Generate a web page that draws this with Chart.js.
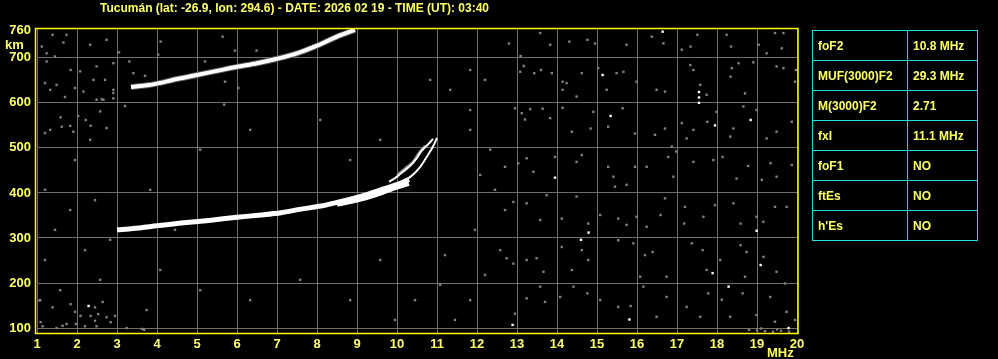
<!DOCTYPE html>
<html>
<head>
<meta charset="utf-8">
<script src="https://cdn.jsdelivr.net/npm/chart.js@4"></script>
<style>
  html, body { margin: 0; padding: 0; background: #000; }
  #wrap { position: relative; width: 998px; height: 359px; }
  #params {
    position: absolute; left: 812px; top: 30px;
    border-collapse: collapse;
    font: bold 12px "Liberation Sans", Arial, sans-serif;
    color: #ffff66;
  }
  #params td {
    border: 1px solid #1ee0e0;
    height: 29px; padding: 0 0 0 5px;
  }
  #params td:first-child { width: 89px; }
  #params td:last-child { width: 64px; }
</style>
</head>
<body>
<div id="wrap">
  <canvas id="iono" width="998" height="359"></canvas>
  <table id="params"></table>
</div>
<script>
const titleText = 'Tucumán (lat: -26.9, lon: 294.6) - DATE: 2026 02 19 - TIME (UT): 03:40';

const freqTicks = [1, 2, 3, 4, 5, 6, 7, 8, 9, 10, 11, 12, 13, 14, 15, 16, 17, 18, 19, 20];
const heightTicks = [100, 200, 300, 400, 500, 600, 700, 760];

// table on the right
const paramNames = ['foF2', 'MUF(3000)F2', 'M(3000)F2', 'fxI', 'foF1', 'ftEs', "h'Es"];
const paramValues = ['10.8 MHz', '29.3 MHz', '2.71', '11.1 MHz', 'NO', 'NO', 'NO'];

// F2 trace (one hop)
const f2Freq   = [3.0, 3.4, 4.0, 4.6, 5.3, 6.0, 6.6, 7.1, 7.6, 8.1, 8.5, 9.0, 9.3, 9.7, 10.1, 10.3];
const f2Height = [318, 321, 327, 333, 339, 346, 351, 356, 364, 371, 379, 390, 398, 410, 422, 430];
// lower edge of the thick part
const f2EdgeFreq   = [8.5, 9.0, 9.5, 10.0, 10.3];
const f2EdgeHeight = [374, 383, 396, 412, 420];
// cusp strands near foF2
const cuspAFreq   = [10.1, 10.25, 10.45, 10.6, 10.75, 10.9, 11.0];
const cuspAHeight = [422, 430, 445, 460, 481, 503, 522];
const cuspBFreq   = [9.8, 9.95, 10.15, 10.35, 10.5, 10.6, 10.8, 10.9];
const cuspBHeight = [425, 433, 447, 462, 478, 492, 510, 520];
const cuspCFreq   = [10.0, 10.2, 10.4, 10.55, 10.7];
const cuspCHeight = [440, 455, 470, 490, 505];

// second hop trace
const hop2Freq   = [3.35, 3.9, 4.5, 5.0, 5.5, 6.0, 6.5, 7.0, 7.5, 8.0, 8.5, 8.95];
const hop2Height = [635, 641, 653, 662, 671, 680, 688, 698, 710, 727, 747, 762];

// background speckle
const noiseGray = [
  [1.39, 751], [1.74, 751], [1.66, 734], [1.12, 725], [1.24, 710], [1.45, 703], [2.33, 729], [2.74, 740],
  [1.24, 692], [1.84, 673], [2.08, 670], [2.49, 681], [2.41, 651], [2.7, 651], [1.2, 644], [1.33, 629],
  [1.49, 640], [1.95, 633], [2.16, 625], [2.91, 629], [1.7, 613], [2.49, 607], [2.62, 608], [1.59, 568],
  [2.03, 571], [2.22, 562], [2.34, 549], [2.58, 581], [1.62, 547], [1.83, 549], [1.2, 533], [1.91, 536],
  [2.74, 544], [4.09, 736], [5.64, 747], [5.95, 716], [6.49, 716], [3.05, 712], [4.03, 707], [3.31, 692],
  [2.91, 688], [5.2, 692], [3.41, 666], [3.7, 660], [5.7, 647], [6.03, 633], [2.91, 622], [2.91, 610],
  [2.66, 607], [3.2, 593], [5.68, 596],
  [1.06, 161], [1.39, 146], [1.84, 153], [1.95, 136], [2.09, 127], [2.45, 146], [2.34, 127], [2.53, 131],
  [2.45, 116], [2.74, 124], [2.95, 127], [2.64, 158], [3.74, 140], [1.09, 113], [1.14, 104], [1.64, 105],
  [1.74, 109], [1.97, 109], [2.2, 104], [2.49, 104], [2.84, 113], [3.24, 100], [3.62, 98], [3.68, 96], [1.49, 100],
  [1.2, 407], [1.45, 318], [1.2, 251], [1.83, 362], [2.2, 273], [2.58, 207], [1.58, 184], [2.45, 384],
  [1.08, 162], [2.83, 296], [1.95, 473], [1.33, 540], [2.33, 518], [3.83, 407], [4.45, 318], [4.08, 229],
  [5.08, 184], [6.33, 162], [7.58, 207], [8.83, 162], [9.58, 251], [9.95, 118], [10.45, 162], [5.08, 496],
  [6.33, 540], [8.08, 562], [8.83, 473], [9.58, 518], [10.83, 651], [11.33, 629],
  [11.83, 673], [12.2, 651], [11.83, 540], [12.33, 496], [12.08, 440], [12.45, 407], [11.95, 318], [12.58, 273],
  [12.2, 218], [11.83, 162], [11.45, 118], [11.08, 196], [11.2, 262], [11.83, 584],
  [12.8, 732], [13.09, 704], [13.58, 755], [13.83, 729], [14.31, 736], [14.76, 740], [14.95, 732], [15.74, 729],
  [16.37, 747], [16.66, 732], [17.12, 718], [17.34, 725], [17.51, 751], [18.24, 751], [18.35, 725], [19.04, 729],
  [19.24, 710], [19.45, 755], [19.62, 721], [19.66, 755],
  [13.08, 669], [13.17, 682], [13.43, 666], [13.6, 673], [13.87, 666], [14.14, 647], [14.14, 629], [14.24, 644],
  [14.49, 614], [14.62, 666], [15.03, 677], [15.24, 629], [15.49, 666], [15.66, 669], [15.99, 647], [16.49, 629],
  [16.7, 625], [17.33, 684], [17.41, 673], [17.58, 640], [17.74, 618], [18.37, 677], [18.54, 688], [18.91, 690],
  [18.34, 658], [18.7, 621], [19.49, 681], [19.66, 677], [19.95, 647], [19.97, 673],
  [12.95, 588], [13.12, 577], [13.2, 563], [13.33, 586], [13.64, 587], [13.83, 566], [14.14, 589], [14.37, 536],
  [14.84, 543], [14.91, 580], [15.28, 547], [15.64, 588], [15.95, 532], [16.45, 529], [16.7, 543], [17.12, 555],
  [17.24, 521], [17.41, 540], [17.76, 558], [17.99, 580], [18.33, 525], [18.41, 543], [18.66, 592], [18.99, 584],
  [19.24, 521], [19.49, 536], [19.87, 558],
  [12.7, 458], [13.03, 466], [13.24, 477], [13.41, 447], [13.95, 480], [14.49, 469], [14.62, 484], [15.28, 458],
  [15.41, 436], [15.45, 414], [15.74, 418], [15.95, 458], [16.24, 458], [16.78, 480], [16.87, 503], [16.98, 492],
  [16.91, 436], [17.41, 469], [17.91, 473], [18.14, 480], [18.49, 432], [18.78, 460], [19.12, 429], [19.34, 466],
  [19.49, 436], [19.87, 462],
  [12.7, 362], [12.91, 380], [13.24, 377], [13.58, 340], [13.74, 395], [14.12, 343], [14.49, 392], [14.78, 332],
  [15.08, 351], [15.53, 343], [15.74, 329], [15.99, 347], [16.24, 325], [16.59, 351], [16.7, 388], [17.2, 369],
  [17.18, 332], [17.66, 347], [17.95, 373], [18.41, 377], [18.59, 332], [18.99, 347], [19.16, 336], [19.45, 369],
  [19.74, 369],
  [12.74, 255], [12.91, 243], [13.24, 251], [13.49, 255], [13.66, 225], [14.12, 280], [14.37, 229], [14.62, 273],
  [14.78, 251], [15.53, 295], [15.91, 288], [16.2, 262], [16.08, 214], [16.39, 269], [16.74, 214], [17.37, 288],
  [17.64, 273], [17.74, 229], [18.08, 251], [18.59, 284], [18.7, 214], [18.74, 269], [19.16, 258], [19.49, 225],
  [19.7, 199],
  [12.95, 132], [13.24, 166], [13.58, 192], [13.7, 158], [14.08, 169], [14.41, 192], [14.76, 177], [15.08, 162],
  [15.53, 147], [15.84, 149], [16.16, 192], [16.49, 125], [16.74, 169], [17.24, 147], [17.58, 125], [17.78, 177],
  [18.12, 163], [18.33, 125], [18.64, 177], [18.99, 129], [19.33, 169], [19.45, 114], [19.74, 136], [19.95, 118],
  [19.0, 95], [19.2, 93], [19.4, 92], [19.6, 94], [19.8, 92], [18.8, 96], [19.1, 99], [19.5, 97]
];
const noiseWhite = [
  [16.64, 758], [15.14, 662], [17.55, 624], [17.55, 612], [17.55, 600], [15.34, 571], [17.95, 550], [18.84, 562],
  [13.95, 434], [14.79, 312], [14.6, 296], [18.99, 316], [19.09, 240], [17.89, 222], [18.29, 192], [15.81, 119],
  [12.89, 107], [19.79, 100], [2.29, 149]
];

const yellow = '#ffff66';

const tbl = document.getElementById('params');
paramNames.forEach((name, i) => {
  const tr = tbl.insertRow();
  tr.insertCell().textContent = name;
  tr.insertCell().textContent = paramValues[i];
});

const pairs = (xs, ys) => xs.map((x, i) => ({ x: x, y: ys[i] }));
const pts = list => list.map(p => ({ x: p[0], y: p[1] }));

// higher order is drawn first (further back)
const traceLine = (data, color, width, order) => ({
  data: data,
  order: order,
  showLine: true,
  borderColor: color,
  borderWidth: width,
  pointRadius: 0,
  tension: 0.3,
  borderCapStyle: 'butt'
});

const decorations = {
  id: 'decorations',
  afterDraw(chart) {
    const ctx = chart.ctx;
    const a = chart.chartArea;
    ctx.save();
    ctx.strokeStyle = '#ffff00';
    ctx.lineWidth = 1.5;
    ctx.strokeRect(a.left - 1.5, a.top - 0.5, a.right - a.left + 2.5, a.bottom - a.top + 1);
    ctx.fillStyle = yellow;
    ctx.font = 'bold 12px "Liberation Sans", Arial, sans-serif';
    ctx.textAlign = 'center';
    ctx.textBaseline = 'alphabetic';
    ctx.fillText(titleText, 294.5, 12, 408);
    ctx.font = 'bold 13px "Liberation Sans", Arial, sans-serif';
    ctx.textAlign = 'left';
    ctx.fillText('km', 5, 49);
    ctx.fillText('MHz', 767, 357);
    ctx.restore();
  }
};

new Chart(document.getElementById('iono').getContext('2d'), {
  type: 'scatter',
  data: {
    datasets: [
      { data: pts(noiseGray), order: 9, backgroundColor: '#808080', borderWidth: 0, pointStyle: 'rect', pointRadius: 1.7 },
      { data: pts(noiseWhite), order: 8, backgroundColor: '#ffffff', borderWidth: 0, pointStyle: 'rect', pointRadius: 1.7 },
      traceLine(pairs(hop2Freq, hop2Height), '#5a5a5a', 6, 5),
      traceLine(pairs(hop2Freq, hop2Height), '#ffffff', 4, 1),
      traceLine(pairs(f2Freq, f2Height), '#ffffff', 5, 1),
      traceLine(pairs(f2EdgeFreq, f2EdgeHeight), '#ffffff', 4, 1),
      traceLine(pairs(cuspCFreq, cuspCHeight), '#8a8a8a', 2, 3),
      traceLine(pairs(cuspAFreq, cuspAHeight), '#ffffff', 2, 1),
      traceLine(pairs(cuspBFreq, cuspBHeight), '#ffffff', 2, 1)
    ]
  },
  options: {
    animation: false,
    responsive: false,
    events: [],
    layout: { padding: { top: 29, right: 201, left: 0, bottom: 0 } },
    plugins: { legend: { display: false }, tooltip: { enabled: false } },
    scales: {
      x: {
        type: 'linear', min: 1, max: 20,
        afterBuildTicks: s => { s.ticks = freqTicks.map(v => ({ value: v })); },
        afterFit: s => { s.height = 26; },
        grid: { color: '#6e6e6e', lineWidth: 1, drawTicks: false },
        border: { display: false },
        ticks: { color: yellow, padding: 4, autoSkip: false, maxRotation: 0,
                 font: { family: '"Liberation Sans", Arial, sans-serif', size: 13, weight: 'bold' } }
      },
      y: {
        type: 'linear', min: 89, max: 764,
        afterBuildTicks: s => { s.ticks = heightTicks.map(v => ({ value: v })); },
        afterFit: s => { s.width = 37; },
        grid: { color: c => (c.tick && c.tick.value === 760 ? 'rgba(0,0,0,0)' : '#6e6e6e'), lineWidth: 1, drawTicks: false },
        border: { display: false },
        ticks: { color: yellow, padding: 6, autoSkip: false,
                 font: { family: '"Liberation Sans", Arial, sans-serif', size: 13, weight: 'bold' } }
      }
    }
  },
  plugins: [decorations]
});
</script>
</body>
</html>
